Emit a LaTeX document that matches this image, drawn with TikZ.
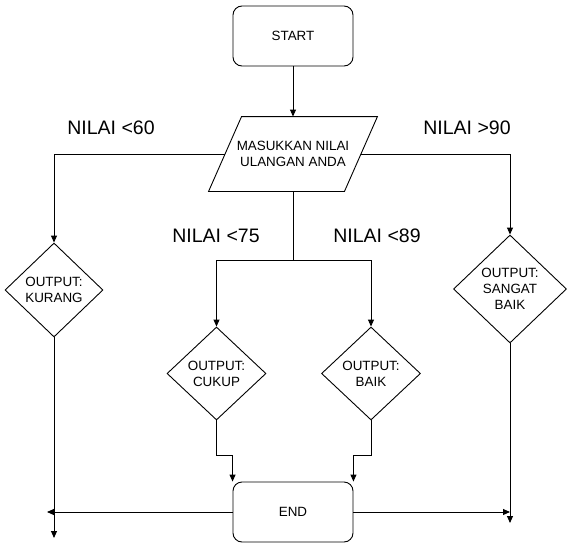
\documentclass[tikz,border=0pt]{standalone}
\usepackage{fontspec}
\setmainfont{Liberation Sans}
\usetikzlibrary{shapes.geometric,arrows.meta}

\tikzset{
  txt/.style={font=\fontsize{13.4}{16}\selectfont, align=center},
  term/.style={txt, draw, rounded corners=9pt, minimum width=120pt, minimum height=60pt},
  inbox/.style={txt, minimum width=135pt, minimum height=74pt, inner sep=0pt},
  decision/.style={txt, draw, diamond, inner sep=0pt},
  cond/.style={font=\fontsize{19.5}{22}\selectfont},
  arr/.style={-{Triangle[length=7pt,width=6pt]}, line width=0.9pt},
}

\begin{document}
\begin{tikzpicture}[x=1pt,y=-1pt, line width=0.9pt]
\useasboundingbox (0,0) rectangle (571,552);

% start and input
\node[term] (start) at (293,36) {START};
\node[inbox] (input) at (293,154) {MASUKKAN NILAI\\ULANGAN ANDA};
\draw ([xshift=16.5pt]input.north west) -- ([xshift=16.5pt]input.north east)
  -- ([xshift=-16.5pt]input.south east) -- ([xshift=-16.5pt]input.south west) -- cycle;
\draw[arr] (start) -- (input);

% outputs
\node[decision, minimum width=98pt, minimum height=94pt] (kurang) at (54,290) {OUTPUT:\\KURANG};
\node[decision, minimum width=99pt, minimum height=93pt] (cukup) at (216.5,373.5) {OUTPUT:\\CUKUP};
\node[decision, minimum width=99pt, minimum height=93pt] (baik) at (371,373.5) {OUTPUT:\\BAIK};
\node[decision, minimum width=113pt, minimum height=108pt] (sangat) at (510,289) {OUTPUT:\\SANGAT\\BAIK};

% end
\node[term] (end) at (293,512) {END};

% conditions
\node[cond] (c60) at (111,128) {NILAI <60};
\node[cond] (c90) at (467,128) {NILAI >90};
\node[cond] (c75) at (216,236) {NILAI <75};
\node[cond] (c89) at (377,236) {NILAI <89};

% branches
\coordinate (split) at (293,260);
\draw[arr] (input.west) -| (kurang.north);
\draw[arr] (input.east) -| (sangat.north);
\draw (input.south) -- (split);
\draw[arr] (split) -| (cukup.north);
\draw[arr] (split) -| (baik.north);

% into end
\draw[arr] (cukup.south) -- ++(0,35) -| (end.north west);
\draw[arr] (baik.south) -- ++(0,35) -| (end.north east);

% loose ends
\coordinate (kurangend) at (54,538);
\coordinate (sangatend) at (510,523);
\coordinate (leftend) at (47,512);
\coordinate (rightend) at (510,512);
\draw[arr] (kurang.south) -- (kurangend);
\draw[arr] (sangat.south) -- (sangatend);
\draw[arr] (end.west) -- (leftend);
\draw[arr] (end.east) -- (rightend);
\end{tikzpicture}
\end{document}
